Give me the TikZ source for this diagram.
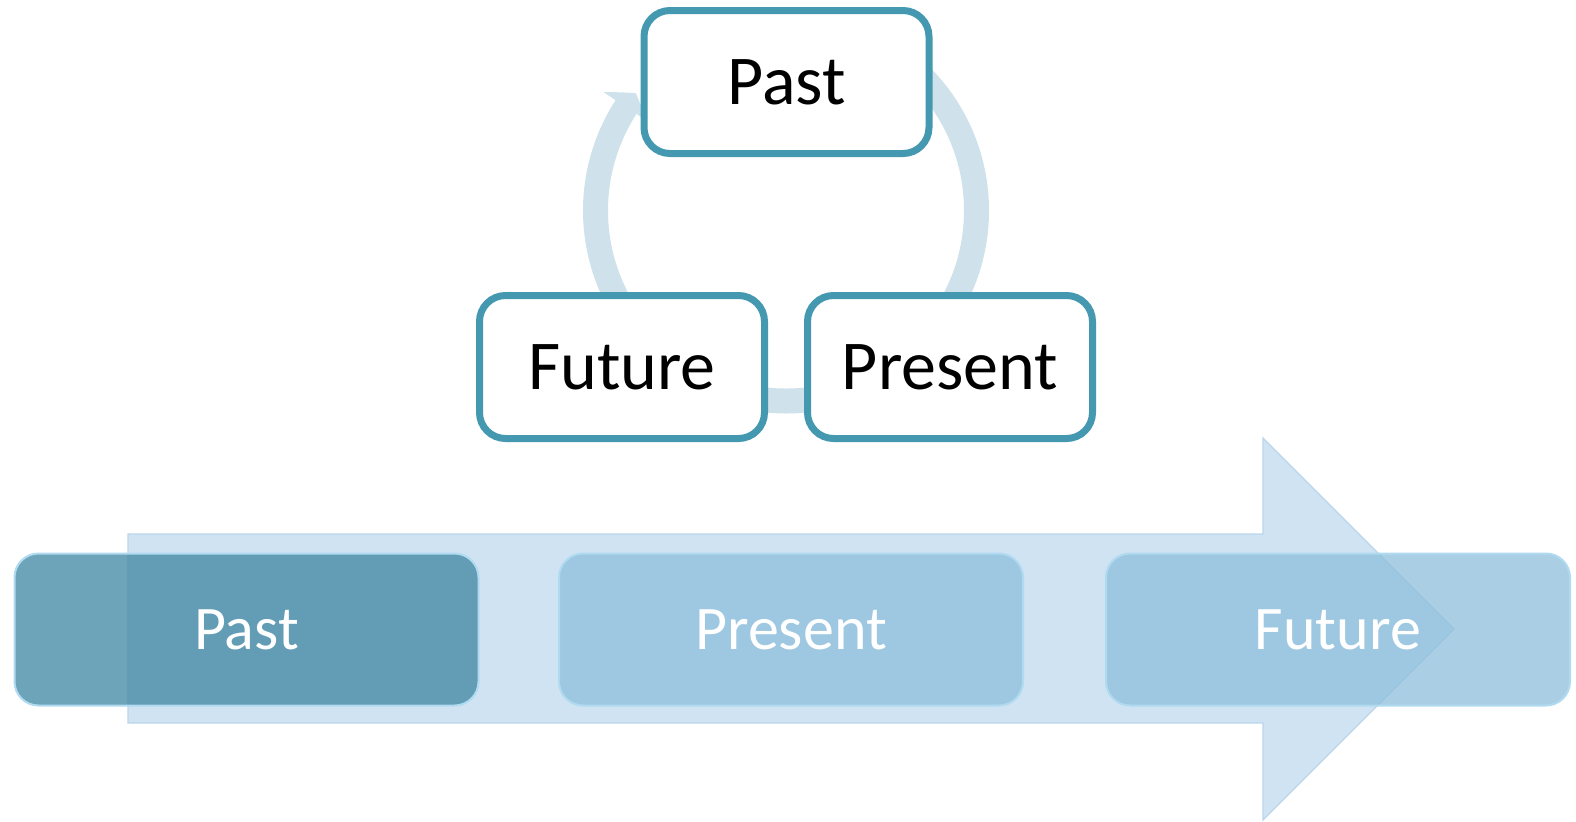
\documentclass[tikz,border=0pt]{standalone}
\usepackage{fontspec}
\setmainfont{Carlito}
\usetikzlibrary{arrows.meta, bending, shadows}

\definecolor{ringblue}{RGB}{207,226,235}
\definecolor{boxedge}{RGB}{68,153,177}
\definecolor{arrowblue}{RGB}{208,227,242}
\definecolor{arrowedge}{RGB}{186,214,236}
\definecolor{pastblue}{RGB}{62,134,161}
\definecolor{stepblue}{RGB}{142,191,220}
\definecolor{rimblue}{RGB}{176,218,240}

\begin{document}
\begin{tikzpicture}[x=0.5pt, y=-0.5pt,
        cyclebox/.style={draw=boxedge, line width=3.5pt, fill=white, rounded corners=13pt,
            minimum width=142.5pt, minimum height=71.5pt, font=\fontsize{35}{42}\selectfont,
            drop shadow={shadow xshift=0.8pt, shadow yshift=-1.5pt, opacity=0.25, fill=gray}},
        timebox/.style={draw=rimblue, line width=1pt, fill opacity=0.75, text opacity=1,
            text=white, rounded corners=12pt, minimum width=232pt, minimum height=76pt,
            font=\fontsize{31}{37}\selectfont}]
    \useasboundingbox (0,0) rectangle (1576,821);
    % cycle of the three times
    \coordinate (hub) at (786,210.5);
    \draw[ringblue, line width=12.5pt, -{Triangle[width=27pt, length=8.5pt, bend]}]
        ([shift={(-90:190.5)}]hub) arc[start angle=-90, end angle=218, radius=190.5];
    \node[cyclebox] (past) at (786.5,82) {Past};
    \node[cyclebox] (future) at (622,367) {Future};
    \node[cyclebox] (present) at (950,367) {Present};
    % timeline arrow
    \filldraw[fill=arrowblue, draw=arrowedge, line width=0.6pt]
        (128,534) -- (1263,534) -- (1263,438) -- (1454,629) -- (1263,820)
        -- (1263,723) -- (128,723) -- cycle;
    \node[timebox, fill=pastblue] (tpast) at (246.5,629.5) {Past};
    \node[timebox, fill=stepblue] (tpresent) at (791,629.5) {Present};
    \node[timebox, fill=stepblue] (tfuture) at (1338,629.5) {Future};
\end{tikzpicture}
\end{document}
